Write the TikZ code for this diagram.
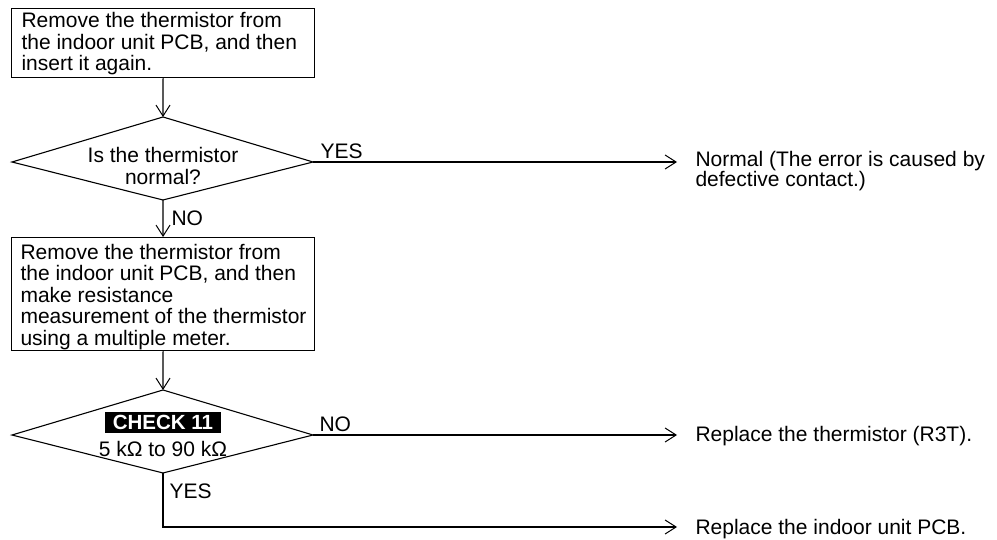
\documentclass[tikz,border=0pt]{standalone}
\usepackage{fontspec}
\setmainfont{Liberation Sans}
\usetikzlibrary{arrows.meta}
\begin{document}
\begin{tikzpicture}[x=1pt,y=1pt,
  line width=1.1pt,
  txt/.style={font=\fontsize{21}{21.5}\selectfont, inner sep=0pt},
  boxframe/.style={draw, minimum width=303pt, anchor=north west, inner sep=0pt},
  flow/.style={-{Straight Barb[length=11pt,width=14pt,line width=1pt]}},
  lbl/.style={txt, anchor=west},
  result/.style={txt, anchor=west, align=left},
  tag/.style={fill=black, text=white, font=\fontsize{20.5}{21.5}\selectfont\bfseries,
              inner xsep=8pt, inner ysep=0pt, minimum height=21pt}]
  \useasboundingbox (0,0) rectangle (997,-540);

  % first action box
  \node[boxframe, minimum height=69pt] (b1) at (11,-8) {};
  \node[txt, anchor=west, align=left] (b1t) at (21,-44)
    {Remove the thermistor from\\the indoor unit PCB, and then\\insert it again.};

  % first decision
  \coordinate (d1t) at (163,-117);
  \coordinate (d1r) at (313,-162);
  \coordinate (d1b) at (163,-200);
  \coordinate (d1l) at (12,-162);
  \draw (d1t) -- (d1r) -- (d1b) -- (d1l) -- cycle;
  \node[txt, align=center] (d1q) at (163,-166) {Is the thermistor\\normal?};

  % second action box
  \node[boxframe, minimum height=113pt] (b2) at (11,-237) {};
  \node[txt, anchor=west, align=left] (b2t) at (20,-297)
    {Remove the thermistor from\\the indoor unit PCB, and then\\make resistance\\measurement of the thermistor\\using a multiple meter.};

  % second decision
  \coordinate (d2t) at (163,-390);
  \coordinate (d2r) at (313,-435);
  \coordinate (d2b) at (163,-473);
  \coordinate (d2l) at (12,-435);
  \draw (d2t) -- (d2r) -- (d2b) -- (d2l) -- cycle;
  \node[tag] (chk) at (163,-422.5) {CHECK 11};
  \node[txt] (rng) at (163,-449) {5 kΩ to 90 kΩ};

  % outcomes
  \coordinate (e1) at (677,-162);
  \coordinate (e2) at (677,-435);
  \coordinate (c3) at (163,-527);
  \coordinate (e3) at (677,-527);
  \node[result] (r1) at (695,-171)
    {Normal (The error is caused by\\[-2pt]defective contact.)};
  \node[result] (r2) at (695,-436) {Replace the thermistor (R3T).};
  \node[result] (r3) at (695,-529) {Replace the indoor unit PCB.};

  % connectors
  \draw[flow] (b1.south) -- (d1t);
  \draw[flow] (d1r) -- (e1);
  \draw[flow] (d1b) -- (b2.north);
  \draw[flow] (b2.south) -- (d2t);
  \draw[flow] (d2r) -- (e2);
  \draw[flow] (d2b) -- (c3) -- (e3);

  % branch labels
  \node[lbl] (y1) at (320,-151) {YES};
  \node[lbl] (n1) at (171,-218) {NO};
  \node[lbl] (n2) at (319,-424) {NO};
  \node[lbl] (y2) at (169,-491) {YES};
\end{tikzpicture}
\end{document}
